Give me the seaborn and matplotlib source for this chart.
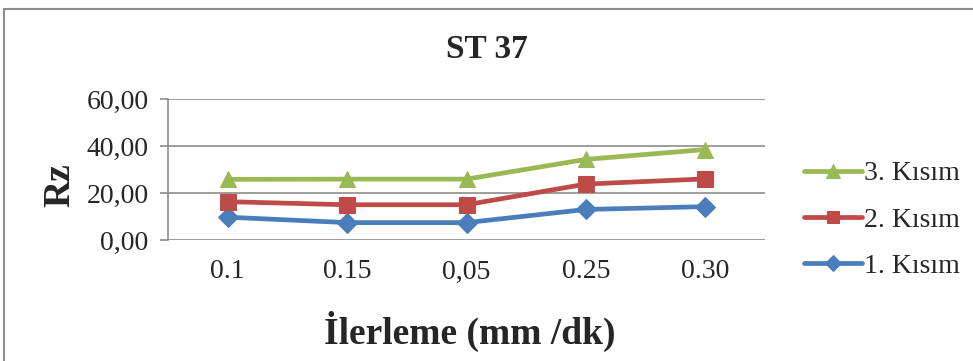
import matplotlib
matplotlib.use("Agg")
import matplotlib.pyplot as plt
import seaborn as sns
import pandas as pd
from matplotlib.patches import Rectangle
from matplotlib.ticker import FuncFormatter

categories = ["0.1", "0.15", "0,05", "0.25", "0.30"]
kisim1 = [9.7, 7.4, 7.4, 13.0, 14.2]
kisim2 = [16.3, 15.0, 15.0, 23.8, 26.0]
kisim3 = [25.8, 25.9, 25.9, 34.3, 38.5]
series_names = ["1. Kısım", "2. Kısım", "3. Kısım"]

rows = []
for name, vals in zip(series_names, [kisim1, kisim2, kisim3]):
    for i, (c, v) in enumerate(zip(categories, vals)):
        rows.append({"pos": i, "cat": c, "Rz": v, "series": name})
df = pd.DataFrame(rows)

sns.set_style("white")
plt.rcParams["font.family"] = ["Liberation Serif", "DejaVu Serif"]

fig = plt.figure(figsize=(9.73, 3.61), dpi=100)
ax = fig.add_axes([168/973, 1-240/361, (765-168)/973, (240-99)/361])

palette = {"1. Kısım": "#4A7EBB", "2. Kısım": "#BE4B48", "3. Kısım": "#98B954"}
markers = {"1. Kısım": "D", "2. Kısım": "s", "3. Kısım": "^"}
sizes_m = {"1. Kısım": 10, "2. Kısım": 11, "3. Kısım": 12}

for name in series_names:
    sub = df[df["series"] == name]
    sns.lineplot(data=sub, x="pos", y="Rz", ax=ax, color=palette[name],
                 marker=markers[name], markersize=sizes_m[name],
                 markeredgecolor=palette[name], linewidth=3.4, label=name,
                 zorder=3)

ax.set_xlim(-0.5, 4.5)
ax.set_ylim(0, 60)
ax.set_yticks([0, 20, 40, 60])
ax.yaxis.set_major_formatter(FuncFormatter(lambda v, p: f"{v:.2f}".replace(".", ",")))
ax.set_xticks(range(len(categories)))
ax.set_xticklabels(categories)
ax.grid(axis="y", color="#8C8C8C", linewidth=1.2)
ax.set_axisbelow(True)
for s in ["top", "right", "bottom"]:
    ax.spines[s].set_visible(False)
ax.spines["left"].set_color("#8C8C8C")
ax.spines["left"].set_linewidth(1.2)
ax.tick_params(axis="y", length=6, width=1.2, color="#8C8C8C", labelsize=20, pad=8, left=True)
ax.tick_params(axis="x", length=0, labelsize=20, pad=14)

ax.set_xlabel("İlerleme (mm /dk)", fontsize=27, fontweight="bold")
ax.xaxis.set_label_coords((470-168)/597, -(331-240)/141)
ax.xaxis.label.set_verticalalignment("center")
ax.set_ylabel("Rz", fontsize=27, fontweight="bold")
ax.yaxis.set_label_coords((60-168)/597, (240-185)/141)
ax.yaxis.label.set_verticalalignment("center")
fig.text(487/973, 1-50/361, "ST 37", ha="center", va="center", fontsize=24, fontweight="bold")

handles, labels = ax.get_legend_handles_labels()
order = [2, 1, 0]
leg = ax.legend([handles[i] for i in order], [labels[i] for i in order],
                loc="center left", bbox_to_anchor=(804/973, 1-220/361),
                bbox_transform=fig.transFigure, frameon=False, fontsize=20,
                handlelength=2.1, handletextpad=0.05, labelspacing=0.75,
                borderpad=0, borderaxespad=0, markerscale=0.8)

fig.patches.append(Rectangle((4/973, -0.2), 2, 1.2 - 9/361, transform=fig.transFigure,
                             fill=False, edgecolor="#8C8C8C", linewidth=1.5))

fig.savefig("out.png", dpi=100)
